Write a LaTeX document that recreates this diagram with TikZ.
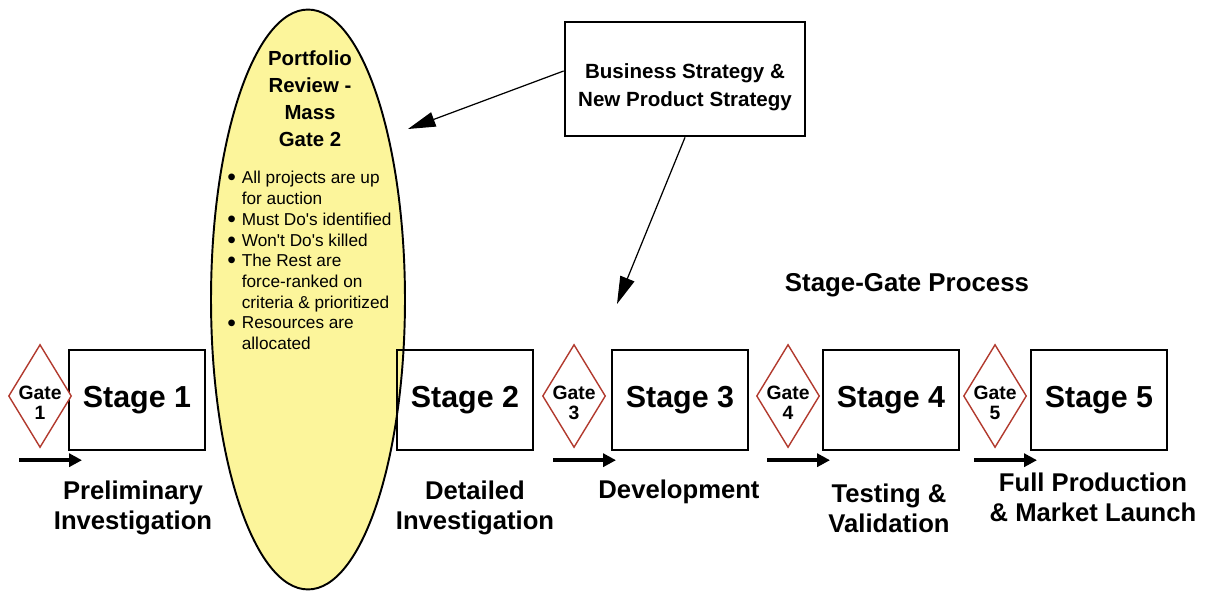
\documentclass[tikz,border=0pt]{standalone}
\usepackage{fontspec}
\setmainfont{Liberation Sans}
\usetikzlibrary{positioning,shapes.geometric,arrows.meta}
\definecolor{gatered}{HTML}{B23A2E}
\definecolor{massyellow}{HTML}{FCF59B}
\newcommand\pbul{\makebox[0.29cm][l]{\raisebox{-1.2pt}[0pt][0pt]{\fontsize{14}{14}\selectfont\textbullet}}}
\newcommand\pind{\hspace*{0.29cm}}
\tikzset{
  stage/.style={draw, line width=0.9pt, minimum width=2.72cm, minimum height=2cm, font=\fontsize{17.3}{20}\selectfont\bfseries},
  gate/.style={draw=gatered, line width=0.8pt, diamond, fill=white, inner sep=0pt, minimum width=1.26cm, minimum height=2.06cm,
    label={[font=\fontsize{11}{11.4}\selectfont\bfseries, align=center, yshift=-0.14cm]center:Gate\\#1}},
  phase/.style={align=center, font=\fontsize{14.6}{17}\selectfont\bfseries},
  massgate/.style={draw, ellipse, line width=1.1pt, fill=massyellow, minimum width=3.88cm, minimum height=11.6cm},
  strategybox/.style={draw, line width=1.6pt, minimum width=4.8cm, minimum height=2.28cm},
  pointer/.style={-{Triangle[length=0.55cm, width=0.3cm]}, line width=0.7pt},
  flowarrow/.style={-{Triangle[length=0.26cm, width=0.26cm]}, line width=2.2pt}
}

\begin{document}
\begin{tikzpicture}[x=0.02cm, y=-0.02cm]
  \useasboundingbox (0,0) rectangle (1207,591);
  % portfolio review ellipse
  \node[massgate] (mass) at (308,299.5) {};
  \node[align=center, font=\fontsize{11.6}{15.4}\selectfont\bfseries] (masstitle) at (310,99) {Portfolio\\Review -\\Mass\\Gate 2};
  \node[align=left, anchor=north west, inner sep=0pt, font=\fontsize{9.8}{11.8}\selectfont] (rules) at (227,171)
    {\pbul All projects are up\\\pind for auction\\\pbul Must Do\textquotesingle s identified\\\pbul Won\textquotesingle t Do\textquotesingle s killed\\
     \pbul The Rest are\\\pind force-ranked on\\\pind criteria \& prioritized\\\pbul Resources are\\\pind allocated};

  % stages and gates
  \node[stage] (s1) at (137,400) {Stage 1};
  \node[stage] (s2) at (465,400) {Stage 2};
  \node[stage] (s3) at (680,400) {Stage 3};
  \node[stage] (s4) at (891,400) {Stage 4};
  \node[stage] (s5) at (1099,400) {Stage 5};
  \node[gate=1, left=-0.08cm of s1, yshift=0.08cm] (g1) {};
  \node[gate=3, left=0.1cm of s3, yshift=0.08cm] (g3) {};
  \node[gate=4, left=0.04cm of s4, yshift=0.08cm] (g4) {};
  \node[gate=5, left=0.06cm of s5, yshift=0.08cm] (g5) {};
  \foreach \g in {g1,g3,g4,g5} {
    \coordinate (\g-from) at ([shift={(-21,12)}]\g.south);
    \coordinate (\g-to) at ([shift={(42,12)}]\g.south);
    \draw[flowarrow] (\g-from) -- (\g-to);
  }

  % phase names
  \node[phase] (p1) at (133,508) {Preliminary\\Investigation};
  \node[phase] (p2) at (475,508) {Detailed\\Investigation};
  \node[phase] (p3) at (679,492) {Development};
  \node[phase] (p4) at (889,508) {Testing \&\\Validation};
  \node[phase] (p5) at (1093,497) {Full Production\\\& Market Launch};
  \node[font=\fontsize{14.7}{17}\selectfont\bfseries] (sgp) at (907,285) {Stage-Gate Process};

  % strategy
  \node[strategybox, label={[align=center, font=\fontsize{11.7}{15.9}\selectfont\bfseries, yshift=-0.16cm]center:Business Strategy \&\\New Product Strategy}] (strat) at (685,79) {};
  \coordinate (masstip) at (408,129);
  \coordinate (devtip) at (617,304);
  \draw[pointer] ([yshift=0.16cm]strat.west) -- (masstip);
  \draw[pointer] (strat.south) -- (devtip);
\end{tikzpicture}
\end{document}
